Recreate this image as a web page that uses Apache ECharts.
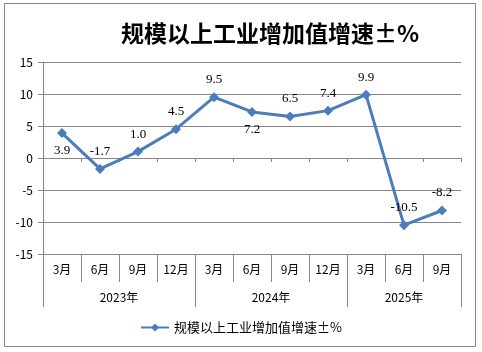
<!DOCTYPE html>
<html>
<head>
<meta charset="utf-8">
<script src="https://cdn.jsdelivr.net/npm/echarts@6/dist/echarts.min.js"></script>
<style>
    html, body { margin: 0; padding: 0; background: #fff; }
    #chart { width: 482px; height: 352px; }
</style>
</head>
<body>
<div id="chart"></div>
<script>
// Data
var months = ['3月', '6月', '9月', '12月', '3月', '6月', '9月', '12月', '3月', '6月', '9月'];
var years = ['2023年', '2024年', '2025年'];
var yearSpans = [4, 4, 3];
var growth = [3.9, -1.7, 1.0, 4.5, 9.5, 7.2, 6.5, 7.4, 9.9, -10.5, -8.2];
var labelsBelow = [0, 5];
var seriesName = '规模以上工业增加值增速±%';

// Year axis built on half-category slots
var yearSlots = [];
var yearLabelAt = {};
var yearTickAt = { 0: true };
(function() {
    var n = months.length * 2 + 1;
    for (var i = 0; i < n; i++) yearSlots.push('');
    var start = 0;
    years.forEach(function(y, k) {
        var mid = start + yearSpans[k];      // center in half slots
        yearSlots[mid] = y;
        yearLabelAt[mid] = true;
        start += yearSpans[k] * 2;
        yearTickAt[start] = true;
    });
})();

var gray = '#868686';

var chart = echarts.init(document.getElementById('chart'));

var option = {
    animation: false,
    backgroundColor: '#fff',
    textStyle: { fontFamily: 'Noto Sans CJK SC, sans-serif' },

    graphic: [{
        type: 'rect',
        shape: { x: 4.5, y: 3.5, width: 471, height: 343 },
        style: { fill: 'none', stroke: gray, lineWidth: 1 },
        silent: true
    }],

    title: {
        text: seriesName,
        left: 265,
        top: 17,
        textAlign: 'center',
        textStyle: {
            fontFamily: 'Noto Sans CJK SC',
            fontSize: 23,
            fontWeight: 'bold',
            color: '#000'
        }
    },

    legend: {
        data: [seriesName],
        left: 'center',
        top: 316,
        itemWidth: 28,
        itemHeight: 10,
        itemGap: 4,
        textStyle: { fontSize: 13, color: '#000' }
    },

    grid: { left: 43, right: 21, top: 62, bottom: 98 },

    xAxis: [{
        type: 'category',
        data: months,
        position: 'bottom',
        axisLine: { onZero: false, lineStyle: { color: gray } },
        axisTick: { show: true, interval: 0, length: 28, lineStyle: { color: gray } },
        axisLabel: { interval: 0, margin: 9, fontSize: 12, color: '#000' },
        splitLine: { show: false }
    }, {
        type: 'category',
        data: yearSlots,
        position: 'bottom',
        offset: 28,
        boundaryGap: false,
        axisLine: { show: false, onZero: false },
        axisTick: {
            show: true,
            length: 25,
            interval: function(i) { return !!yearTickAt[i]; },
            lineStyle: { color: gray }
        },
        axisLabel: {
            interval: function(i) { return !!yearLabelAt[i]; },
            margin: 9,
            fontSize: 12,
            color: '#000'
        },
        splitLine: { show: false }
    }, {
        type: 'category',
        data: months,
        position: 'bottom',
        axisLine: { onZero: true, lineStyle: { color: gray } },
        axisTick: { show: true, interval: 0, length: 4, lineStyle: { color: gray } },
        axisLabel: { show: false },
        splitLine: { show: false }
    }],

    yAxis: {
        type: 'value',
        min: -15,
        max: 15,
        interval: 5,
        axisLine: { show: true, lineStyle: { color: gray } },
        axisTick: { show: true, length: 5, lineStyle: { color: gray } },
        axisLabel: { margin: 10, fontSize: 12, color: '#000' },
        splitLine: { lineStyle: { color: gray } }
    },

    series: [{
        name: seriesName,
        type: 'line',
        xAxisIndex: 0,
        data: growth.map(function(v, i) {
            return {
                value: v,
                label: { position: labelsBelow.indexOf(i) >= 0 ? 'bottom' : 'top' }
            };
        }),
        symbol: 'diamond',
        symbolSize: 10,
        lineStyle: { color: '#4a7ebb', width: 3 },
        itemStyle: { color: '#4a7ebb' },
        label: {
            show: true,
            distance: 6,
            fontFamily: 'Liberation Serif',
            fontSize: 13,
            color: '#000',
            formatter: function(p) { return p.value.toFixed(1); }
        }
    }]
};

chart.setOption(option);
</script>
</body>
</html>
